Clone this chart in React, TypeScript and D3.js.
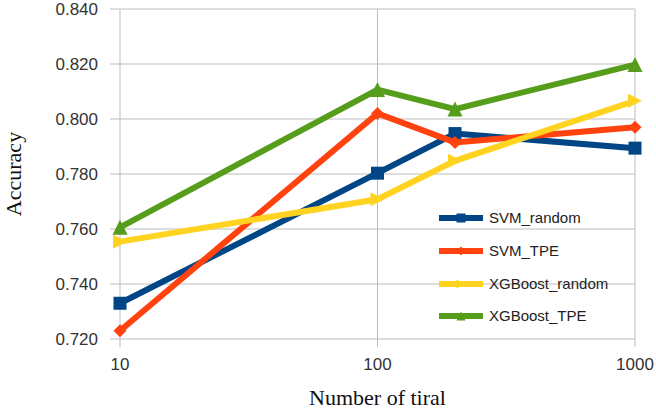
import * as d3 from "d3";

const trials = [10, 100, 200, 1000];
const xTicks = [10, 100, 1000];
const yTicks = [0.72, 0.74, 0.76, 0.78, 0.8, 0.82, 0.84];

const svmRandom = [0.733, 0.7803, 0.7947, 0.7894];
const svmTpe = [0.723, 0.802, 0.7915, 0.797];
const xgbRandom = [0.7554, 0.7708, 0.7848, 0.8066];
const xgbTpe = [0.7606, 0.8107, 0.8036, 0.8198];

const seriesNames = ["SVM_random", "SVM_TPE", "XGBoost_random", "XGBoost_TPE"];
const seriesValues = [svmRandom, svmTpe, xgbRandom, xgbTpe];
const colors = ["#004586", "#ff420e", "#ffd320", "#579d1c"];
const shapes = ["square", "diamond", "right", "up"];
const markerSizes = [13, 13, 14, 15];

const W = 656;
const H = 410;
const margin = { top: 9, right: 21, bottom: 71, left: 120 };

const sans = "'Liberation Sans', Arial, sans-serif";
const serif = "'Liberation Serif', 'Times New Roman', serif";

function markerPath(shape: string, cx: number, cy: number, s: number) {
  const h = s / 2;
  if (shape === "square") return `M${cx - h},${cy - h}h${s}v${s}h${-s}Z`;
  if (shape === "diamond") return `M${cx},${cy - h}L${cx + h},${cy}L${cx},${cy + h}L${cx - h},${cy}Z`;
  if (shape === "right") return `M${cx - h},${cy - h}L${cx + h},${cy}L${cx - h},${cy + h}Z`;
  return `M${cx},${cy - h}L${cx + h},${cy + h}L${cx - h},${cy + h}Z`;
}

export default function App() {
  const x = d3.scaleLog().domain([10, 1000]).range([margin.left, W - margin.right]);
  const y = d3.scaleLinear().domain([0.72, 0.84]).range([H - margin.bottom, margin.top]);
  const line = d3
    .line<number>()
    .x((_, i) => x(trials[i]))
    .y((d) => y(d));

  const x0 = margin.left;
  const x1 = W - margin.right;
  const y0 = H - margin.bottom;
  const grid = "#bdbdbd";
  const legX = 439;
  const legY = [218, 251, 284, 316];

  return (
    <svg width={W} height={H} style={{ position: "absolute", left: 0, top: 0, background: "#fff" }}>
      {yTicks.map((t) => (
        <g key={"y" + t}>
          <line x1={x0 - 10} x2={x1} y1={y(t)} y2={y(t)} stroke={grid} strokeWidth={1} />
          <text x={x0 - 22} y={y(t)} dy="0.35em" textAnchor="end" fontFamily={sans} fontSize={17} fill="#333">
            {d3.format(".3f")(t)}
          </text>
        </g>
      ))}
      {xTicks.map((t) => (
        <g key={"x" + t}>
          <line x1={x(t)} x2={x(t)} y1={margin.top} y2={y0 + 8} stroke={grid} strokeWidth={1} />
          <text x={x(t)} y={y0 + 25} dy="0.35em" textAnchor="middle" fontFamily={sans} fontSize={17} fill="#333">
            {t}
          </text>
        </g>
      ))}
      {seriesValues.map((vals, si) => (
        <g key={seriesNames[si]}>
          <path d={line(vals) ?? ""} fill="none" stroke={colors[si]} strokeWidth={6} strokeLinejoin="miter" />
          {vals.map((v, i) => (
            <path key={i} d={markerPath(shapes[si], x(trials[i]), y(v), markerSizes[si])} fill={colors[si]} />
          ))}
        </g>
      ))}
      {seriesNames.map((name, si) => (
        <g key={"leg" + name}>
          <line x1={legX} x2={legX + 44} y1={legY[si]} y2={legY[si]} stroke={colors[si]} strokeWidth={6} />
          <path d={markerPath(shapes[si], legX + 22, legY[si], 9)} fill={colors[si]} />
          <text x={legX + 50} y={legY[si]} dy="0.35em" fontFamily={sans} fontSize={15} fill="#222">
            {name}
          </text>
        </g>
      ))}
      <text
        transform={`translate(21,${(margin.top + y0) / 2}) rotate(-90)`}
        textAnchor="middle"
        fontFamily={serif}
        fontSize={22}
        fill="#111"
      >
        Accuracy
      </text>
      <text x={(x0 + x1) / 2} y={405} textAnchor="middle" fontFamily={serif} fontSize={22} fill="#111">
        Number of tiral
      </text>
    </svg>
  );
}
